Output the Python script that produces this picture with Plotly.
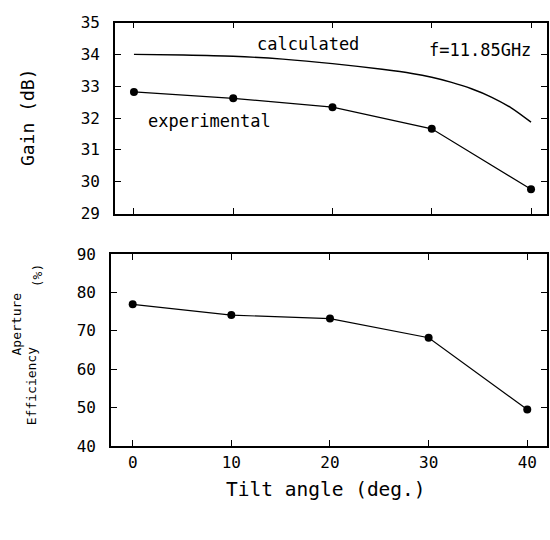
import plotly.graph_objects as go

# Data
tilt_exp = [0, 10, 20, 30, 40]
gain_exp = [32.82, 32.62, 32.34, 31.66, 29.76]
eff_exp = [76.9, 74.1, 73.2, 68.2, 49.5]

tilt_calc = [0, 5, 10, 15, 20, 25, 28, 30, 32, 34, 36, 38, 40]
gain_calc = [34.0, 33.98, 33.94, 33.85, 33.71, 33.53, 33.40, 33.28, 33.12, 32.92, 32.66, 32.32, 31.87]

x_ticks = [0, 10, 20, 30, 40]
gain_ticks = [29, 30, 31, 32, 33, 34, 35]
eff_ticks = [40, 50, 60, 70, 80, 90]

FONT = "DejaVu Sans Mono"
W, H = 550, 540

def px(x):
    return x / W

def py(y):
    return 1 - y / H

fig = go.Figure()

fig.add_trace(go.Scatter(x=tilt_calc, y=gain_calc, mode="lines",
                         line=dict(color="black", width=1.4, shape="spline", smoothing=0.8),
                         xaxis="x", yaxis="y", showlegend=False))
fig.add_trace(go.Scatter(x=tilt_exp, y=gain_exp, mode="lines+markers",
                         line=dict(color="black", width=1.2),
                         marker=dict(color="black", size=8),
                         xaxis="x", yaxis="y", showlegend=False))
fig.add_trace(go.Scatter(x=tilt_exp, y=eff_exp, mode="lines+markers",
                         line=dict(color="black", width=1.2),
                         marker=dict(color="black", size=8),
                         xaxis="x2", yaxis="y2", showlegend=False))

axis_common = dict(showline=True, linecolor="black", linewidth=1.8, mirror="ticks",
                   ticks="inside", ticklen=6, tickwidth=1.2, tickcolor="black",
                   showgrid=False, zeroline=False,
                   tickfont=dict(family=FONT, size=16, color="black"))

fig.update_layout(
    width=W, height=H,
    margin=dict(l=0, r=0, t=0, b=0),
    paper_bgcolor="white", plot_bgcolor="white",
    xaxis=dict(domain=[px(115), px(547)], range=[-1.91, 41.61], anchor="y",
               tickvals=x_ticks, showticklabels=False, **axis_common),
    yaxis=dict(domain=[py(212), py(14)], range=[29, 35], anchor="x",
               tickvals=gain_ticks, ticklabelstandoff=10, **axis_common),
    xaxis2=dict(domain=[px(111), px(547)], range=[-2.2, 42.0], anchor="y2",
                tickvals=x_ticks, ticklabelstandoff=1, **axis_common),
    yaxis2=dict(domain=[py(453), py(254)], range=[40, 90], anchor="x2",
                tickvals=eff_ticks, ticklabelstandoff=10, **axis_common),
)

def ann(text, x, y, size, angle=0):
    fig.add_annotation(text=text, x=px(x), y=py(y), xref="paper", yref="paper",
                       showarrow=False, textangle=angle, xanchor="center", yanchor="middle",
                       font=dict(family=FONT, size=size, color="black"))

ann("calculated", 308, 36, 17)
ann("f=11.85GHz", 480, 43, 17)
ann("experimental", 209, 116, 17)
ann("Gain (dB)", 27, 112, 18, -90)
ann("Efficiency", 31, 391, 13, -90)
ann("(%)", 37, 277, 13, -90)
ann("Aperture", 16, 327, 13, -90)
ann("Tilt angle (deg.)", 326, 498, 19.5)

fig.write_html("out.html", config={"displayModeBar": False},
               post_script="document.body.style.margin='0';document.body.style.overflow='hidden';")
